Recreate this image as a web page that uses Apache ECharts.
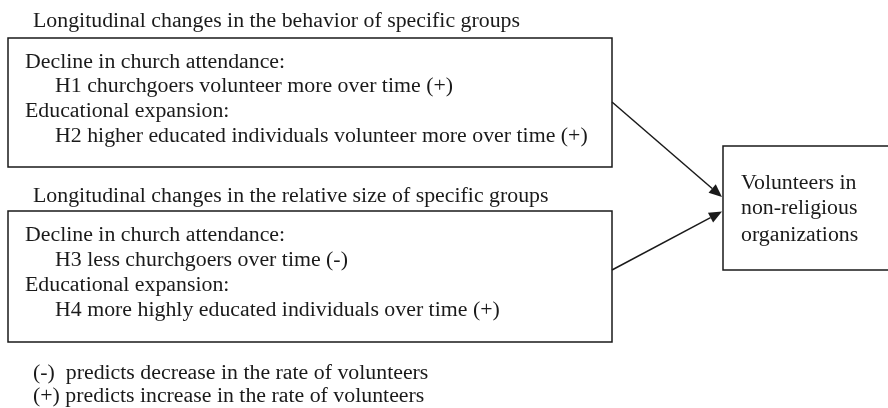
<!DOCTYPE html>
<html>
<head>
<meta charset="utf-8">
<script src="https://cdn.jsdelivr.net/npm/echarts@6/dist/echarts.min.js"></script>
<style>
  html, body { margin: 0; padding: 0; background: #fff; }
  #main { width: 888px; height: 408px; }
</style>
</head>
<body>
<div id="main"></div>
<script>
// texts of the diagram
const groupTitles = [
    'Longitudinal changes in the behavior of specific groups',
    'Longitudinal changes in the relative size of specific groups'
];
const behaviorLines = [
    'Decline in church attendance:',
    'H1 churchgoers volunteer more over time (+)',
    'Educational expansion:',
    'H2 higher educated individuals volunteer more over time (+)'
];
const sizeLines = [
    'Decline in church attendance:',
    'H3 less churchgoers over time (-)',
    'Educational expansion:',
    'H4 more highly educated individuals over time (+)'
];
const outcomeLines = ['Volunteers in', 'non-religious', 'organizations'];
const noteLines = [
    '(-)  predicts decrease in the rate of volunteers',
    '(+) predicts increase in the rate of volunteers'
];

const FONT = '"Liberation Serif", "DejaVu Serif", serif';
const INK = '#1a1a1a';
const SIZE = 20;
const STRETCH = 1.092; // the scanned text is a bit wider than Times
const DY = 2.5;

function txt(s, x, y) {
    return {
        type: 'text', x: x, y: y + DY, scaleX: STRETCH,
        style: { text: s, fill: INK, font: SIZE + 'px ' + FONT, verticalAlign: 'middle' }
    };
}
function box(x, y, w, h) {
    return {
        type: 'rect', shape: { x: x, y: y, width: w, height: h },
        style: { fill: 'none', stroke: INK, lineWidth: 1.5 }
    };
}
// arrow from (x1,y1) to (x2,y2), head at the end
function arrow(x1, y1, x2, y2) {
    const a = Math.atan2(y2 - y1, x2 - x1);
    const len = 13, half = 5.5;
    const bx = x2 - len * Math.cos(a), by = y2 - len * Math.sin(a);
    const nx = -Math.sin(a), ny = Math.cos(a);
    return [
        { type: 'line', shape: { x1: x1, y1: y1, x2: bx, y2: by }, style: { stroke: INK, lineWidth: 1.5 } },
        { type: 'polygon', shape: { points: [[x2, y2], [bx + nx * half, by + ny * half], [bx - nx * half, by - ny * half]] },
          style: { fill: INK } }
    ];
}

// line positions (vertical centres)
const rowsTop = [60, 84, 109, 134];
const rowsBottom = [233, 258, 283, 308];
const rowsOutcome = [181.5, 206.5, 233];
const rowsNotes = [371.5, 394];

const els = [];
els.push(box(8, 38, 604, 129));
els.push(box(8, 211, 604, 131));
els.push(box(723, 146, 175, 124));
els.push(txt(groupTitles[0], 33, 19));
els.push(txt(groupTitles[1], 33, 194));
behaviorLines.forEach((s, i) => els.push(txt(s, i % 2 ? 55 : 25, rowsTop[i])));
sizeLines.forEach((s, i) => els.push(txt(s, i % 2 ? 55 : 25, rowsBottom[i])));
outcomeLines.forEach((s, i) => els.push(txt(s, 741, rowsOutcome[i])));
noteLines.forEach((s, i) => els.push(txt(s, 33, rowsNotes[i])));
els.push(...arrow(612, 102, 722, 197));
els.push(...arrow(612, 270, 722, 211.5));

const chart = echarts.init(document.getElementById('main'));
chart.setOption({
    backgroundColor: '#fff',
    animation: false,
    graphic: { elements: els }
});
</script>
</body>
</html>
